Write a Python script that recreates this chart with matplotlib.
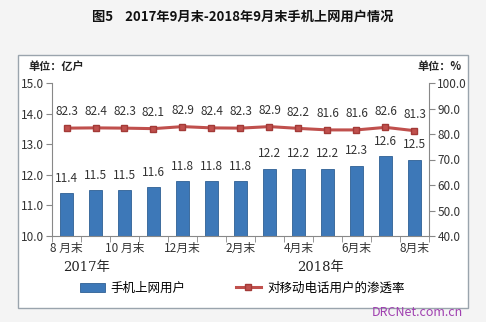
import matplotlib
matplotlib.use("Agg")
import matplotlib.pyplot as plt
from matplotlib.patches import Rectangle
from matplotlib.lines import Line2D
import numpy as np

plt.rcParams['font.family'] = ['Noto Sans CJK SC', 'DejaVu Sans']

categories = ['8月末', '9月末', '10月末', '11月末', '12月末', '1月末', '2月末',
              '3月末', '4月末', '5月末', '6月末', '7月末', '8月末']
tick_labels = ['8 月末', '', '10 月末', '', '12月末', '', '2月末', '', '4月末', '', '6月末', '', '8月末']
users = [11.4, 11.5, 11.5, 11.6, 11.8, 11.8, 11.8, 12.2, 12.2, 12.2, 12.3, 12.6, 12.5]
penetration = [82.3, 82.4, 82.3, 82.1, 82.9, 82.4, 82.3, 82.9, 82.2, 81.6, 81.6, 82.6, 81.3]
years = ['2017年', '2018年']

W, H = 486, 322
fig = plt.figure(figsize=(W/100, H/100), dpi=100, facecolor='#f4f4f4')

# chart frame
fig.patches.append(Rectangle((18/W, 1-308/H), (468-18)/W, (308-55)/H,
                             transform=fig.transFigure, facecolor='white',
                             edgecolor='#9aa4ad', linewidth=1.0, zorder=-10))

ax = fig.add_axes([52/W, 1-236/H, (429-52)/W, (236-83)/H])
ax.set_facecolor('none')
x = np.arange(len(categories))
bar_color = '#3d78b8'
line_color = '#c0504d'
ax.bar(x, users, width=0.42, color=bar_color, edgecolor='#2f5f94', linewidth=0.6, zorder=2)
ax.set_ylim(10, 15)
ax.set_xlim(-0.5, len(categories)-0.5)
ax.set_yticks(np.arange(10, 15.01, 1.0))
ax.set_yticklabels([f'{v:.1f}' for v in np.arange(10, 15.01, 1.0)], fontsize=8.5, color='#333333')
for xi, v in zip(x, users):
    ax.annotate(f'{v:.1f}', (xi, v), xytext=(0, 6), textcoords='offset points',
                ha='center', va='bottom', fontsize=8.5, color='#333333')

ax.set_xticks(x)
ax.set_xticklabels(tick_labels, fontsize=8.5, color='#333333')
ax.tick_params(axis='x', length=0, pad=4)
ax.set_xticks(np.arange(-0.5, len(categories), 1), minor=True)
ax.tick_params(axis='x', which='minor', length=4, color='#888888', direction='out')
ax.tick_params(axis='y', length=4, color='#888888', direction='out', pad=2)
for s in ['top', 'right']:
    ax.spines[s].set_visible(False)
for s in ['left', 'bottom']:
    ax.spines[s].set_color('#888888')

ax2 = ax.twinx()
ax2.plot(x, penetration, color=line_color, linewidth=2.2, marker='s', markersize=5,
         markerfacecolor=line_color, markeredgecolor='#a33a37', zorder=3)
ax2.set_ylim(40, 100)
ax2.set_yticks(np.arange(40, 100.1, 10))
ax2.set_yticklabels([f'{v:.1f}' for v in np.arange(40, 100.1, 10)], fontsize=8.5, color='#333333')
ax2.tick_params(axis='y', length=4, color='#888888', direction='out', pad=2)
for s in ['top', 'left', 'bottom']:
    ax2.spines[s].set_visible(False)
ax2.spines['right'].set_color('#888888')
for xi, v in zip(x, penetration):
    ax2.annotate(f'{v:.1f}', (xi, v), xytext=(0, 7), textcoords='offset points',
                 ha='center', va='bottom', fontsize=8.5, color='#333333')

# title and units
fig.text(0.5, 1-17/H, '图5    2017年9月末-2018年9月末手机上网用户情况', ha='center', va='center',
         fontsize=9.5, fontweight='bold', color='#111111')
fig.text(28/W, 1-66/H, '单位：亿户', ha='left', va='center', fontsize=8, fontweight='bold', color='#222222')
fig.text(462/W, 1-66/H, '单位：%', ha='right', va='center', fontsize=8, fontweight='bold', color='#222222')

# years
fig.text(87/W, 1-268/H, years[0], ha='center', va='center', fontsize=9.5, family=['DejaVu Serif', 'Noto Sans CJK SC'], color='#222222')
fig.text(320/W, 1-268/H, years[1], ha='center', va='center', fontsize=9.5, family=['DejaVu Serif', 'Noto Sans CJK SC'], color='#222222')

# legend
handles = [Rectangle((0, 0), 1, 1, facecolor=bar_color, edgecolor='#2f5f94', linewidth=0.6),
           Line2D([0], [0], color=line_color, linewidth=2.2, marker='s', markersize=5,
                  markerfacecolor=line_color, markeredgecolor='#a33a37')]
fig.legend(handles, ['手机上网用户', '对移动电话用户的渗透率'], loc='center',
           bbox_to_anchor=(242/W, 1-288/H), ncol=2, frameon=False, fontsize=9,
           columnspacing=4.0, handlelength=2.0, handletextpad=0.5)

# watermark
fig.text(463/W, 1-312/H, 'DRCNet.com.cn', ha='right', va='center', fontsize=9, color='#a040b0')

fig.savefig('out.png', dpi=100, facecolor=fig.get_facecolor())
